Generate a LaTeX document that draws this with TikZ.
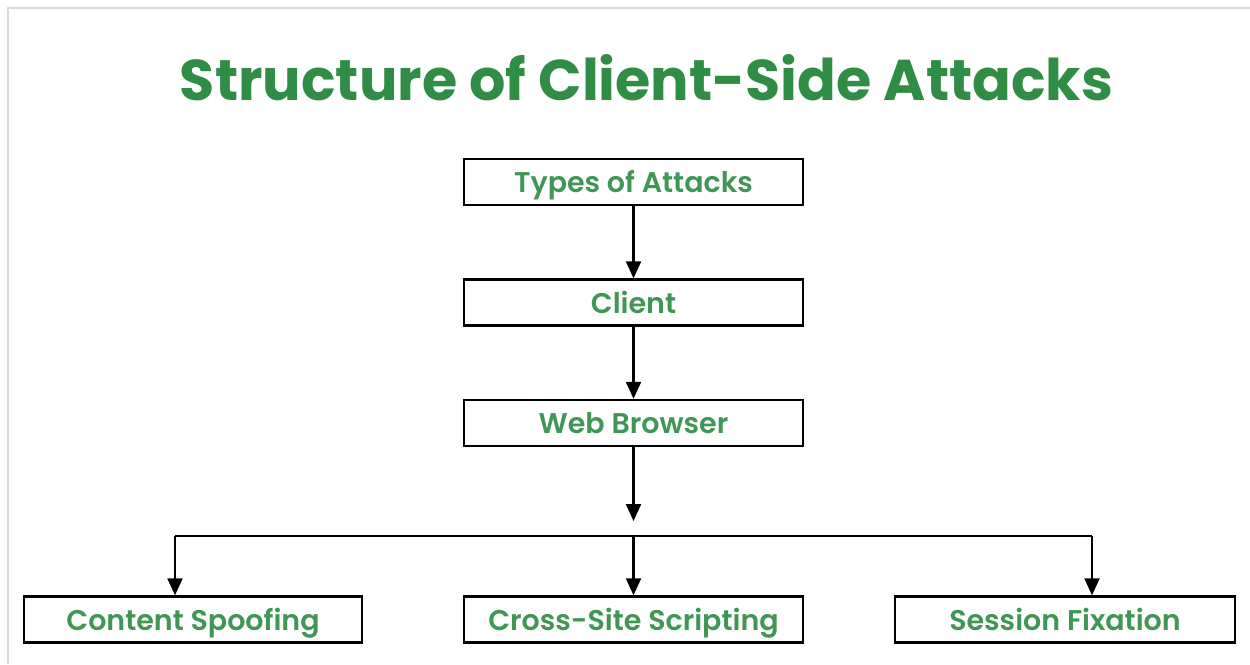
\documentclass[tikz,border=0pt]{standalone}
\usepackage{fontspec}
\setmainfont{Poppins}
\newfontfamily\labelfont{Poppins SemiBold}
\usetikzlibrary{arrows.meta}
\definecolor{gfgreen}{HTML}{2F8D46}
\begin{document}
\begin{tikzpicture}[x=1pt,y=-1pt,
  box/.style={draw=black, line width=2.4pt, minimum width=339pt, minimum height=46pt,
    inner sep=0pt, text height=23pt, text depth=2pt,
    font=\labelfont\fontsize{28.5}{30}\selectfont, text=gfgreen!92!white},
  link/.style={line width=2.2pt, -{Triangle[length=17pt,width=15pt]}},
  wire/.style={line width=2.2pt}]
\useasboundingbox (0,0) rectangle (1250,664);
% faint frame along the top and left edges
\draw[black!14, line width=1.5pt] (8,664) -- (8,8) -- (1250,8);

\node[text=gfgreen] (title) at (646.5,78)
  {\resizebox{933pt}{46pt}{\bfseries Structure of Client-Side Attacks}};

\node[box] (types)   at (633.5,182)   {Types of Attacks};
\node[box] (client)  at (633.5,302.5) {Client};
\node[box] (browser) at (633.5,423)   {Web Browser};
\node[box, minimum width=338pt] (spoof) at (193,619.5)   {Content Spoofing};
\node[box] (xss)     at (633.5,619.5) {Cross-Site Scripting};
\node[box, minimum width=340pt] (fix)   at (1065,619.5)  {Session Fixation};

\coordinate (drop) at (633.5,521);
\coordinate (busL) at (175,536);
\coordinate (busM) at (633.5,536);
\coordinate (busR) at (1092,536);

\draw[link] (types) -- (client);
\draw[link] (client) -- (browser);
\draw[link] (browser) -- (drop);
\draw[wire] (busL) -- (busR);
\draw[link] (busL) -- (spoof.north -| busL);
\draw[link] (busM) -- (xss.north);
\draw[link] (busR) -- (fix.north -| busR);
\end{tikzpicture}
\end{document}
